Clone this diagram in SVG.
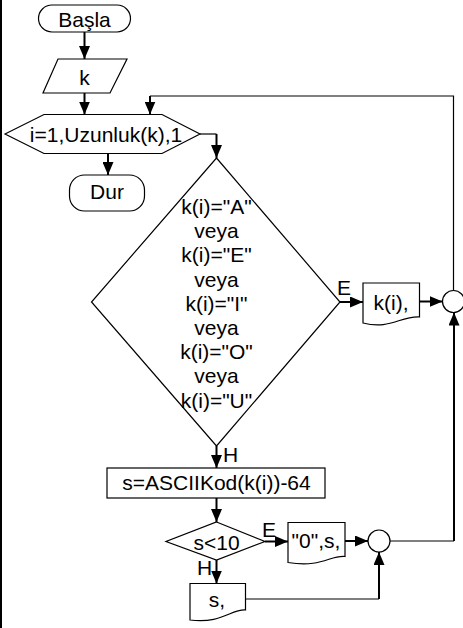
<svg xmlns="http://www.w3.org/2000/svg" width="463" height="628" viewBox="0 0 463 628">
<defs>
<marker id="ah" markerUnits="userSpaceOnUse" markerWidth="14" markerHeight="11" refX="13" refY="5.5" orient="auto"><path d="M0,0 L13,5.5 L0,11 z" fill="#000"/></marker>
<style>
.s{fill:#fff;stroke:#000;stroke-width:1.2}
.t{font-family:"Liberation Sans",Arial,sans-serif;font-size:21px;fill:#000;text-anchor:middle}
.l{font-family:"Liberation Sans",Arial,sans-serif;font-size:21px;fill:#000}
.c{fill:none;stroke:#000;stroke-width:1.2}
.a{fill:none;stroke:#000;stroke-width:2;marker-end:url(#ah)}
</style>
</defs>
<rect x="0" y="0" width="463" height="628" fill="#fff"/>
<line x1="1" y1="0" x2="1" y2="628" stroke="#000" stroke-width="2"/>

<g id="connectors">
<path class="a" d="M84.5,32 V59"/>
<path class="a" d="M84.5,93 V114.5"/>
<path class="a" d="M108,153.5 V175"/>
<path class="c" d="M200,134 H216.5"/>
<path class="a" d="M216.5,134 V158"/>
<path class="a" d="M340,302 H363"/>
<path class="a" d="M419.5,301.5 H442.5"/>
<path class="c" d="M453.5,290.5 V96 H150"/>
<path class="a" d="M150,96 V114.5"/>
<path class="a" d="M216.5,446 V468"/>
<path class="a" d="M216.5,498 V522"/>
<path class="a" d="M265,541.5 H288"/>
<path class="a" d="M345,541 H368"/>
<path class="a" d="M216.5,560 V583.5"/>
<path class="c" d="M245.5,599 H379"/>
<path class="a" d="M379,599 V552"/>
<path class="c" d="M390,541 H454"/>
<path class="a" d="M454,541 V312.5"/>
<text class="l" x="337" y="295">E</text>
<text class="l" x="223" y="462">H</text>
<text class="l" x="262" y="537">E</text>
<text class="l" x="197" y="575">H</text>
</g>

<g id="start">
<rect class="s" x="38.5" y="5" width="92" height="27" rx="13.5"/>
<text class="t" x="84.5" y="26.5">Başla</text>
</g>

<g id="input">
<polygon class="s" points="58,59 127,59 110,93 43,93"/>
<text class="t" x="84.5" y="84.5">k</text>
</g>

<g id="loop">
<polygon class="s" points="5,134 44,114.5 162,114.5 200,134 162,153.5 44,153.5"/>
<text class="t" x="106" y="141.5">i=1,Uzunluk(k),1</text>
</g>

<g id="end">
<rect class="s" x="69.5" y="175" width="75" height="36" rx="15"/>
<text class="t" x="107" y="198.5">Dur</text>
</g>

<g id="vowel">
<polygon class="s" points="216.5,158 340,302 216.5,446 91.5,302"/>
<text class="t" x="216.5" y="214">k(i)="A"</text>
<text class="t" x="216.5" y="238.2">veya</text>
<text class="t" x="216.5" y="262.4">k(i)="E"</text>
<text class="t" x="216.5" y="286.6">veya</text>
<text class="t" x="216.5" y="310.8">k(i)="I"</text>
<text class="t" x="216.5" y="335">veya</text>
<text class="t" x="216.5" y="359.2">k(i)="O"</text>
<text class="t" x="216.5" y="383.4">veya</text>
<text class="t" x="216.5" y="407.6">k(i)="U"</text>
</g>

<g id="printK">
<path class="s" d="M363,283 H419.5 V317 C400,316 390,330 363,323 Z"/>
<text class="t" x="391" y="309.5">k(i),</text>
</g>

<g id="join1">
<circle class="s" cx="453.5" cy="301.5" r="11"/>
</g>

<g id="calc">
<rect class="s" x="107" y="468" width="218" height="30"/>
<text class="t" x="216.5" y="490">s=ASCIIKod(k(i))-64</text>
</g>

<g id="cmp">
<polygon class="s" points="216.5,522 265,541.5 216.5,560 166,541.5"/>
<text class="t" x="216.5" y="550">s&lt;10</text>
</g>

<g id="print0">
<path class="s" d="M288,522.5 H345 V556.5 C330,555 322,568 288,562.5 Z"/>
<text class="t" x="316" y="548">"0",s,</text>
</g>

<g id="printS">
<path class="s" d="M190,583.5 H245.5 V610 C231,609 222,624 190,620 Z"/>
<text class="t" x="217" y="607">s,</text>
</g>

<g id="join2">
<circle class="s" cx="379" cy="541" r="11"/>
</g>
</svg>
